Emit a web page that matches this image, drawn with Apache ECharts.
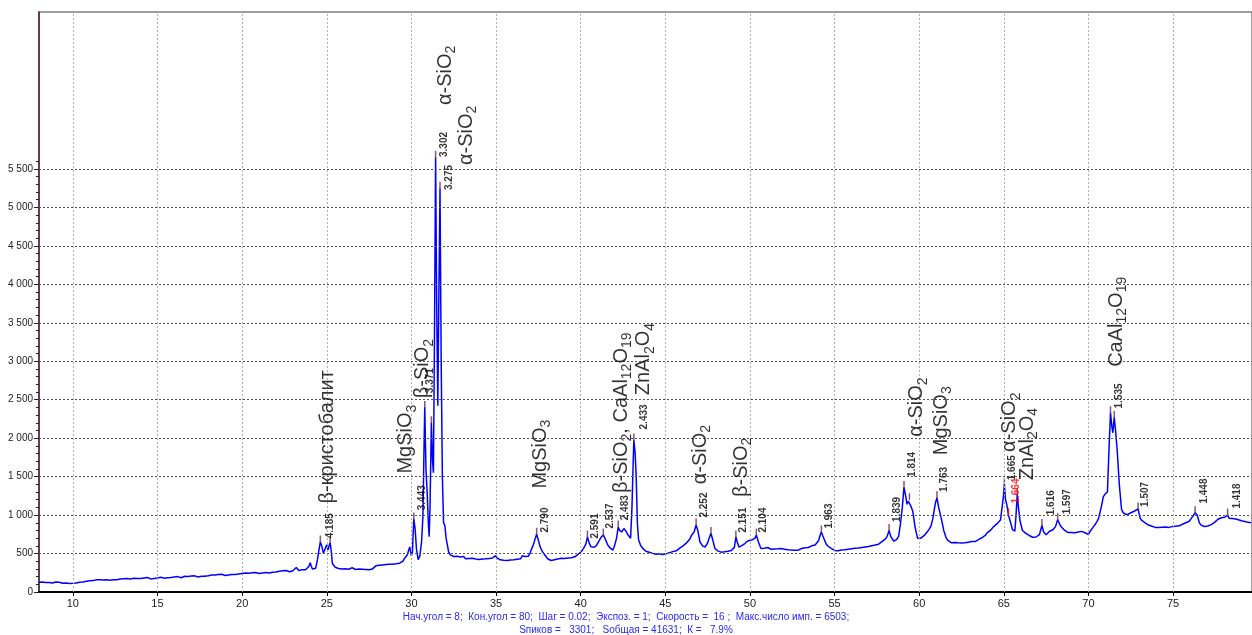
<!DOCTYPE html>
<html>
<head>
<meta charset="utf-8">
<script src="https://cdn.jsdelivr.net/npm/echarts@6/dist/echarts.min.js"></script>
<style>
html,body{margin:0;padding:0;background:#fff;}
#chart{width:1252px;height:635px;}
</style>
</head>
<body>
<div id="chart"></div>
<script>
// ---- data: diffraction pattern [2θ, counts] ----
const pattern = [
[8.0,128],[8.1,120],[8.2,131],[8.3,118],[8.4,125],[8.5,135],[8.6,122],[8.7,128],[8.8,116],[8.9,124],[9.0,130],[9.1,119],[9.2,127],[9.3,121],[9.4,113],[9.5,122],[9.6,117],[9.7,126],[9.8,112],[9.9,120],
[10.0,114],[10.1,122],[10.2,118],[10.3,130],[10.4,126],[10.5,138],[10.6,131],[10.7,127],[10.8,140],[10.9,133],[11.0,145],[11.1,152],[11.2,148],[11.3,166],[11.4,158],[11.5,175],[11.6,160],[11.7,168],[11.8,155],[11.9,170],
[12.0,158],[12.1,162],[12.2,152],[12.3,166],[12.4,158],[12.5,170],[12.6,160],[12.7,155],[12.8,168],[12.9,162],[13.0,172],[13.1,165],[13.2,176],[13.3,160],[13.4,170],[13.5,164],[13.6,178],[13.7,168],[13.8,174],[13.9,163],
[14.0,176],[14.1,170],[14.2,182],[14.3,172],[14.4,188],[14.5,176],[14.6,170],[14.7,183],[14.8,177],[14.9,190],[15.0,182],[15.1,178],[15.2,192],[15.3,184],[15.4,180],[15.5,194],[15.6,186],[15.7,198],[15.8,188],[15.9,182],
[16.0,196],[16.1,190],[16.2,200],[16.3,192],[16.4,186],[16.5,198],[16.6,204],[16.7,194],[16.8,202],[16.9,196],[17.0,208],[17.1,199],[17.2,210],[17.3,202],[17.4,196],[17.5,212],[17.6,205],[17.7,214],[17.8,206],[17.9,218],
[18.0,210],[18.1,204],[18.2,220],[18.3,212],[18.4,222],[18.5,215],[18.6,226],[18.7,218],[18.8,230],[18.9,221],[19.0,214],[19.1,228],[19.2,222],[19.3,234],[19.4,226],[19.5,236],[19.6,228],[19.7,242],[19.8,234],[19.9,228],
[20.0,240],[20.1,234],[20.2,246],[20.3,238],[20.4,244],[20.5,236],[20.6,250],[20.7,242],[20.8,254],[20.9,246],[21.0,240],[21.1,256],[21.2,248],[21.3,262],[21.4,252],[21.5,258],[21.6,248],[21.7,264],[21.8,256],[21.9,270],
[22.0,260],[22.1,254],[22.2,270],[22.3,262],[22.4,276],[22.5,266],[22.6,280],[22.7,270],[22.8,264],[22.9,282],[23.0,276],[23.1,290],[23.2,318],[23.28,300],[23.35,280],[23.45,296],[23.55,288],[23.65,300],[23.75,290],[23.85,305],
[23.95,335],[24.02,380],[24.08,340],[24.15,298],[24.25,292],[24.35,310],[24.45,420],[24.55,560],[24.62,650],[24.7,600],[24.8,505],[24.9,560],[25.0,615],[25.08,550],[25.15,610],[25.2,640],[25.27,520],[25.33,370],
[25.4,345],[25.5,322],[25.6,318],[25.7,305],[25.8,312],[25.9,298],[26.0,310],[26.1,302],[26.2,314],[26.3,296],[26.4,306],[26.5,315],[26.6,300],[26.7,292],[26.8,305],[26.9,298],[27.0,310],[27.1,296],[27.2,304],[27.3,292],
[27.4,300],[27.5,288],[27.6,284],[27.7,300],[27.8,325],[27.9,340],[28.0,335],[28.1,348],[28.2,340],[28.3,352],[28.4,344],[28.5,356],[28.6,346],[28.7,360],[28.8,350],[28.9,362],[29.0,355],[29.1,368],[29.2,362],[29.3,375],
[29.4,382],[29.5,400],[29.6,440],[29.75,480],[29.9,585],[30.0,470],[30.06,520],[30.14,950],[30.22,820],[30.3,560],[30.4,420],[30.5,470],[30.6,650],[30.68,980],[30.74,1800],[30.79,2400],[30.86,1600],[30.93,1300],[31.0,900],[31.05,720],
[31.1,1100],[31.18,2200],[31.25,1700],[31.3,1550],[31.36,3200],[31.43,5650],[31.5,3600],[31.56,2420],[31.62,3800],[31.69,5250],[31.76,3000],[31.83,1500],[31.9,900],[31.98,860],[32.05,700],[32.12,620],[32.2,520],
[32.3,482],[32.4,470],[32.5,462],[32.6,452],[32.7,465],[32.8,442],[32.9,455],[33.0,448],[33.1,460],[33.2,432],[33.3,445],[33.4,436],[33.5,428],[33.6,440],[33.7,422],[33.8,430],[33.9,415],[34.0,424],[34.1,412],[34.2,430],
[34.3,420],[34.4,432],[34.5,418],[34.6,436],[34.7,428],[34.8,442],[34.9,455],[34.95,472],[35.05,445],[35.15,425],[35.25,418],[35.35,428],[35.45,412],[35.55,422],[35.65,410],[35.75,425],[35.85,415],[35.95,428],[36.05,418],[36.15,432],
[36.25,425],[36.35,440],[36.45,432],[36.55,470],[36.62,492],[36.7,462],[36.8,450],[36.9,465],[37.0,500],[37.1,560],[37.2,610],[37.32,700],[37.4,750],[37.48,690],[37.6,590],[37.75,520],
[37.85,490],[37.95,470],[38.05,432],[38.15,418],[38.25,410],[38.35,428],[38.45,418],[38.55,436],[38.65,430],[38.75,448],[38.85,438],[38.95,450],[39.05,436],[39.15,452],[39.25,442],[39.35,456],[39.45,446],[39.55,440],[39.65,458],[39.75,470],
[39.85,490],[39.95,505],[40.05,530],[40.15,560],[40.3,620],[40.4,715],[40.5,640],[40.6,590],[40.75,580],[40.9,595],[41.05,650],[41.2,710],[41.34,740],[41.45,690],[41.6,610],[41.75,570],[41.9,545],[42.0,600],[42.12,700],[42.22,845],
[42.3,800],[42.42,780],[42.55,825],[42.68,790],[42.8,740],[42.95,700],[43.03,1100],[43.08,1500],[43.14,1975],[43.22,1800],[43.28,1500],[43.35,900],[43.42,680],[43.55,600],[43.7,560],[43.85,530],
[43.95,522],[44.05,518],[44.15,510],[44.25,502],[44.35,508],[44.45,492],[44.55,484],[44.65,496],[44.75,478],[44.85,488],[44.95,480],[45.05,495],[45.15,500],[45.25,512],[45.35,508],[45.45,525],[45.55,540],[45.65,535],[45.75,556],[45.85,570],
[45.95,588],[46.05,600],[46.15,622],[46.25,638],[46.35,660],[46.45,690],[46.55,737],[46.7,780],[46.82,870],[46.92,800],[47.05,650],[47.2,600],[47.35,585],[47.5,640],[47.62,720],[47.7,760],[47.8,680],[47.93,565],
[48.0,548],[48.1,535],[48.2,528],[48.3,518],[48.4,530],[48.5,522],[48.6,538],[48.7,530],[48.8,548],[48.9,540],[49.0,552],[49.08,580],[49.17,715],[49.25,650],[49.35,585],[49.5,600],[49.7,630],[49.85,660],[50.0,672],[50.15,680],
[50.3,700],[50.38,740],[50.5,650],[50.65,565],[50.75,558],[50.85,570],[50.95,562],[51.05,578],[51.15,566],[51.25,556],[51.35,570],[51.45,560],[51.55,572],[51.65,562],[51.75,555],[51.85,566],[51.95,548],[52.05,556],[52.15,540],[52.25,548],
[52.35,535],[52.45,545],[52.55,530],[52.65,542],[52.75,550],[52.85,544],[52.95,558],[53.05,566],[53.15,560],[53.25,575],[53.35,582],[53.45,578],[53.55,592],[53.65,600],[53.75,596],[53.85,612],[53.95,630],[54.05,665],[54.15,740],[54.22,780],
[54.3,735],[54.38,690],[54.5,625],[54.6,598],[54.7,585],[54.8,566],[54.9,548],[55.0,540],[55.1,545],[55.2,536],[55.3,550],[55.4,545],[55.5,558],[55.6,550],[55.7,562],[55.8,556],[55.9,570],[56.0,562],[56.1,576],[56.2,568],
[56.3,580],[56.4,572],[56.5,586],[56.6,578],[56.7,594],[56.8,586],[56.9,600],[57.0,592],[57.1,610],[57.2,602],[57.3,618],[57.4,610],[57.5,628],[57.6,622],[57.7,640],[57.8,655],[57.9,672],[58.0,690],[58.1,720],[58.22,800],
[58.32,720],[58.5,660],[58.65,680],[58.78,720],[58.9,900],[59.0,1100],[59.1,1360],[59.2,1250],[59.28,1140],[59.36,1180],[59.42,1200],[59.5,1120],[59.62,1050],[59.75,850],[59.9,700],[60.0,712],[60.1,700],[60.2,725],[60.3,735],[60.4,760],
[60.5,790],[60.6,820],[60.7,860],[60.8,950],[60.95,1150],[61.05,1225],[61.15,1100],[61.3,960],[61.45,800],[61.6,700],[61.7,670],[61.8,650],[61.9,640],[62.0,635],[62.1,645],[62.2,632],[62.3,640],[62.4,628],[62.5,636],[62.6,625],
[62.7,640],[62.8,632],[62.9,648],[63.0,640],[63.1,655],[63.2,662],[63.3,655],[63.4,672],[63.5,680],[63.6,690],[63.7,705],[63.8,718],[63.9,735],[64.0,765],[64.1,780],[64.2,800],[64.3,790],[64.4,850],[64.5,868],[64.6,888],
[64.7,905],[64.8,935],[64.9,960],[64.98,1250],[65.03,1400],[65.1,1200],[65.18,1130],[65.27,1005],[65.4,900],[65.51,810],[65.65,790],[65.72,1000],[65.79,1270],[65.86,1100],[65.96,920],
[66.1,800],[66.2,775],[66.3,762],[66.4,745],[66.5,735],[66.6,720],[66.7,712],[66.8,705],[66.9,715],[67.0,725],[67.1,745],[67.25,865],[67.35,780],[67.5,745],[67.6,770],[67.7,790],[67.8,800],[67.9,810],[68.05,850],[68.18,940],
[68.3,880],[68.4,845],[68.5,820],[68.6,800],[68.7,785],[68.8,772],[68.9,790],[69.0,775],[69.1,785],[69.2,770],[69.3,792],[69.4,780],[69.5,775],[69.6,788],[69.7,772],[69.8,770],[69.9,760],[70.0,745],[70.1,790],[70.2,820],
[70.3,850],[70.4,880],[70.5,915],[70.6,960],[70.75,1100],[70.88,1240],[71.0,1280],[71.12,1300],[71.22,1900],[71.3,2330],[71.38,2150],[71.44,2070],[71.52,2270],[71.6,2100],[71.7,1830],[71.82,1400],[71.95,1080],
[72.0,1050],[72.1,1020],[72.2,1010],[72.3,1005],[72.4,1015],[72.5,1030],[72.6,1040],[72.7,1050],[72.8,1055],[72.93,1080],
[73.05,960],[73.15,930],[73.25,935],[73.35,900],[73.45,885],[73.55,870],[73.65,880],[73.75,855],[73.85,862],[73.95,840],[74.05,852],[74.15,838],[74.25,850],[74.35,842],[74.45,858],[74.55,845],[74.65,852],[74.75,840],[74.85,860],[74.95,850],
[75.05,862],[75.15,855],[75.25,868],[75.35,860],[75.45,872],[75.55,880],[75.65,890],[75.75,900],[75.85,912],[75.95,920],[76.05,945],[76.15,980],[76.3,1030],[76.42,1000],[76.55,900],[76.65,870],[76.75,860],[76.85,852],[76.95,866],[77.05,858],
[77.15,870],[77.25,876],[77.35,890],[77.45,905],[77.55,930],[77.65,945],[77.75,955],[77.85,965],[77.95,958],[78.05,972],[78.15,965],[78.22,1000],[78.3,960],[78.4,968],[78.5,955],[78.6,962],[78.7,948],[78.8,952],[78.9,935],[79.0,940],
[79.1,922],[79.2,930],[79.3,912],[79.4,918],[79.5,905],[79.6,900]
];

// peak tops marked by the program: [2θ, counts]
const peakMarks = [[24.62,650],[25.2,640],[30.14,950],[30.79,2400],[31.18,2200],[31.43,5650],[31.69,5250],[37.4,750],[40.4,715],[41.34,740],[42.22,845],[43.14,1975],[46.82,870],[47.7,760],[49.17,715],[50.38,740],[54.22,780],[58.22,800],[59.1,1360],[59.42,1200],[61.05,1225],[65.03,1400],[65.79,1270],[67.25,865],[68.18,940],[71.3,2330],[71.52,2270],[72.93,1080],[76.3,1030],[78.22,1000]];
const redMarks = [[65.27,1005]];

// d-spacing labels: [2θ, counts, text]
const dLabels = [[25.2,699,'4.185'],[30.65,1063,'3.443'],[31.1,2585,'3.371'],[31.93,5655,'3.302'],[32.23,5226,'3.275'],[37.93,773,'2.790'],[40.88,695,'2.591'],[41.72,825,'2.537'],[42.65,933,'2.483'],[43.77,2113,'2.433'],[47.33,968,'2.252'],[49.63,773,'2.151'],[50.81,773,'2.104'],[54.68,825,'1.963'],[58.71,911,'1.839'],[59.6,1496,'1.814'],[61.49,1301,'1.763'],[65.5,1453,'1.665'],[67.82,998,'1.616'],[68.76,1011,'1.597'],[71.81,2386,'1.535'],[73.33,1106,'1.507'],[76.81,1150,'1.448'],[78.79,1085,'1.418']];
const dLabelsRed = [[65.72,1150,'1.664']];

// phase labels: [2θ, counts, text]  (_n = subscript)
const phaseLabels = [[25.04,1150,'β-кристобалит'],[29.67,1540,'MgSiO_3'],[30.68,2520,'β-SiO_2'],[32.0,6331,'α-SiO_2'],[33.23,5551,'α-SiO_2'],[37.63,1345,'MgSiO_3'],[42.41,1288,'β-SiO_2, CaAl_12O_19'],[43.73,2559,'ZnAl_2O_4'],[47.07,1401,'α-SiO_2'],[49.49,1236,'β-SiO_2'],[59.85,2017,'α-SiO_2'],[61.29,1778,'MgSiO_3'],[65.36,1821,'α-SiO_2'],[66.4,1453,'ZnAl_2O_4'],[71.65,2927,'CaAl_12O_19']];

const xTicks = [10,15,20,25,30,35,40,45,50,55,60,65,70,75];
const yTicks = [0,500,1000,1500,2000,2500,3000,3500,4000,4500,5000,5500];
const yGrid = [500,1000,1500,2000,2500,3000,3500,4000,4500,5000,5500];
const yMinorStep = 100;

const footer1 = 'Нач.угол = 8;  Кон.угол = 80;  Шаг = 0.02;  Экспоз. = 1;  Скорость =  16 ;  Макс.число имп. = 6503;';
const footer2 = 'Sпиков =   3301;   Sобщая = 41631;  К =   7.9%';

// ---- build ----
const FONT = '"Liberation Sans", Arial, sans-serif';
const yMinor = [];
for (let v = 0; v <= 5600; v += yMinorStep) if (v % 500 !== 0) yMinor.push(v);

function richFormula(s) {
  const parts = s.split(/_(\d+)/);
  let out = '';
  parts.forEach((p, i) => {
    if (!p) return;
    out += (i % 2 === 1) ? '{s|' + p + '}' : '{m|' + p + '}';
  });
  return out;
}
function fmtY(v) {
  if (v >= 1000) return Math.floor(v / 1000) + ' ' + String(v % 1000).padStart(3, '0');
  return String(v);
}

const chart = echarts.init(document.getElementById('chart'), null, {renderer: 'canvas'});
chart.setOption({
  animation: false,
  backgroundColor: '#fff',
  grid: {left: 39, right: -2, top: 12, bottom: 43, show: true, borderColor: '#808080', borderWidth: 1.5, backgroundColor: 'transparent'},
  xAxis: {
    type: 'value', min: 8, max: 79.66,
    axisLine: {show: true, onZero: false, lineStyle: {color: '#000', width: 2}},
    axisTick: {show: true, customValues: xTicks, length: 4, lineStyle: {color: '#000'}},
    axisLabel: {customValues: xTicks, fontSize: 11, color: '#222', fontFamily: FONT, margin: 6},
    splitLine: {show: false}
  },
  yAxis: [{
    type: 'value', min: 0, max: 7540, position: 'left',
    axisLine: {show: true, lineStyle: {color: '#4a1c44', width: 1.5}},
    axisTick: {show: true, customValues: yTicks, length: 5, lineStyle: {color: '#222'}},
    axisLabel: {customValues: yTicks, formatter: fmtY, fontSize: 10, color: '#222', fontFamily: FONT, margin: 6},
    splitLine: {show: false}
  }, {
    type: 'value', min: 0, max: 7540, position: 'left',
    axisLine: {show: false},
    axisTick: {show: true, customValues: yMinor, length: 3, lineStyle: {color: '#222'}},
    axisLabel: {show: false},
    splitLine: {show: false}
  }],
  graphic: [
    {type: 'text', left: 'center', top: 612, style: {text: footer1, fill: '#2a2aee', font: '10px ' + FONT}},
    {type: 'text', left: 'center', top: 625, style: {text: footer2, fill: '#2a2aee', font: '10px ' + FONT}}
  ],
  series: [
    {
      type: 'line', data: [], z: 1, silent: true,
      markLine: {
        silent: true, symbol: 'none', label: {show: false}, animation: false,
        data: xTicks.map(v => ({xAxis: v, lineStyle: {color: '#b0b0b0', type: [2, 2], width: 1}}))
          .concat(yGrid.map(v => ({yAxis: v, lineStyle: {color: '#555', type: [2, 2], width: 1}})))
      }
    },
    {
      type: 'line', z: 3, showSymbol: false, silent: true,
      data: pattern,
      lineStyle: {color: '#0000ff', width: 1.5},
      itemStyle: {color: '#0000ff'}
    },
    {
      type: 'scatter', z: 4, silent: true,
      symbol: 'rect', symbolSize: [1.5, 7], symbolOffset: [0, -3],
      itemStyle: {color: '#6b2a58'},
      data: peakMarks
    },
    {
      type: 'scatter', z: 4, silent: true,
      symbol: 'rect', symbolSize: [1.5, 7], symbolOffset: [0, -3],
      itemStyle: {color: '#ff0000'},
      data: redMarks
    },
    {
      type: 'scatter', z: 5, silent: true, symbolSize: 0,
      data: dLabels.map(d => ({value: [d[0], d[1]], name: d[2]})),
      label: {show: true, position: 'inside', rotate: 90, align: 'left', verticalAlign: 'middle',
        formatter: '{b}', fontSize: 10, fontWeight: 'bold', color: '#000', fontFamily: FONT}
    },
    {
      type: 'scatter', z: 5, silent: true, symbolSize: 0,
      data: dLabelsRed.map(d => ({value: [d[0], d[1]], name: d[2]})),
      label: {show: true, position: 'inside', rotate: 90, align: 'left', verticalAlign: 'middle',
        formatter: '{b}', fontSize: 10, color: '#ff0000', fontWeight: 'bold', fontFamily: FONT}
    },
    {
      type: 'scatter', z: 5, silent: true, symbolSize: 0,
      data: phaseLabels.map(d => ({value: [d[0], d[1]], name: d[2]})),
      label: {show: true, position: 'inside', rotate: 90, align: 'left', verticalAlign: 'middle',
        formatter: p => richFormula(p.name), color: '#000', fontFamily: FONT,
        rich: {
          m: {fontSize: 20, fontFamily: FONT, color: '#000', lineHeight: 26, verticalAlign: 'middle'},
          s: {fontSize: 14, fontFamily: FONT, color: '#000', lineHeight: 14, verticalAlign: 'bottom'}
        }}
    }
  ]
});
</script>
</body>
</html>
